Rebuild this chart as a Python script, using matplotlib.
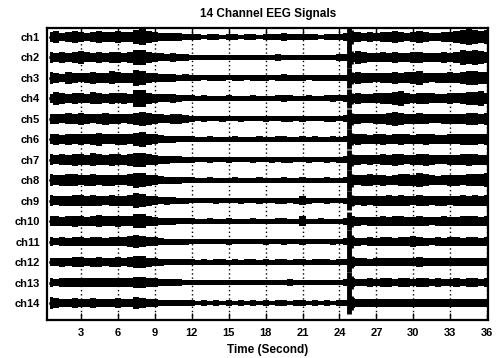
import numpy as np
import matplotlib
matplotlib.use("Agg")
import matplotlib.pyplot as plt

plt.rcParams['font.family'] = ['Liberation Sans', 'DejaVu Sans']

# time grid of envelope samples (seconds)
t_start, t_stop, t_step = 0.5, 36.5, 0.5
channels = [f"ch{i}" for i in range(1, 15)]
x_ticks = [3, 6, 9, 12, 15, 18, 21, 24, 27, 30, 33, 36]

# half-amplitude envelopes (in 1/100 of channel spacing)
ch1 = [20,24,18,22,26,20,18,22,24,19,21,26,22,20,28,34,24,20,
       16,18,15,17,14,12,
       11,10,12,11,10,11,12,10,11,12,10,11,13,12,16,12,11,13,12,11,10,12,13,12,
       16,22,
       22,18,20,17,19,22,24,20,18,22,26,20,18,17,20,22,24,28,32,30,26,28,22]
ch2 = [22,18,24,20,22,26,21,19,23,20,24,22,19,23,30,32,22,18,
       17,15,18,14,13,12,
       10,12,11,10,11,12,11,10,12,11,10,12,11,14,12,11,12,10,11,12,11,10,12,13,
       15,20,
       28,24,20,18,21,19,23,20,18,22,24,19,20,18,22,20,24,30,28,32,26,24,20]
ch3 = [24,20,18,26,22,19,21,24,20,22,27,23,20,22,32,30,21,19,
       18,16,17,14,15,12,
       11,10,12,11,12,10,11,12,10,11,12,11,10,12,15,11,12,11,10,12,11,12,11,12,
       14,20,
       26,22,20,19,22,20,24,21,23,26,28,22,19,20,21,23,22,26,30,28,24,26,21]
ch4 = [20,26,22,19,24,21,20,25,22,20,23,21,24,20,34,36,23,20,
       17,16,18,15,13,12,
       11,12,10,11,10,12,11,10,11,12,11,10,11,12,14,12,11,10,12,11,10,12,14,12,
       14,20,
       22,20,19,21,24,22,26,30,24,20,22,24,21,19,20,22,21,24,28,26,30,24,20]
ch5 = [22,20,18,23,21,24,22,19,21,25,22,20,19,22,26,28,24,22,
       18,16,20,22,16,13,
       11,12,11,10,12,11,10,12,11,10,11,12,10,11,13,12,11,12,11,10,11,12,12,11,
       14,20,
       20,18,19,22,20,26,28,24,20,21,23,20,18,19,21,20,22,20,24,26,22,24,19]
ch6 = [20,22,19,24,21,23,20,22,26,21,20,24,22,20,28,30,22,20,
       16,15,14,13,12,12,
       10,11,12,10,11,10,12,11,10,11,12,10,11,12,13,11,10,12,11,13,11,10,12,11,
       13,20,
       22,20,18,20,22,19,21,24,20,18,21,22,20,19,18,20,21,23,22,24,20,22,18]
ch7 = [22,19,23,20,24,22,20,26,23,20,24,22,21,24,30,28,22,20,
       16,17,15,14,13,12,
       11,10,12,11,10,12,11,10,11,12,10,11,12,11,13,12,11,10,12,11,10,12,11,12,
       14,20,
       20,18,21,19,22,20,24,22,19,20,22,24,20,18,19,21,20,22,24,22,20,21,18]
ch8 = [24,20,22,26,24,21,22,24,20,23,22,20,21,24,32,30,22,20,
       16,15,14,14,12,12,
       10,11,12,11,10,11,12,10,11,10,12,11,10,11,12,11,10,12,11,10,11,12,11,10,
       13,20,
       20,22,24,20,22,19,21,24,26,22,28,24,20,19,21,23,22,20,24,26,24,28,22]
ch9 = [22,18,21,20,24,22,20,23,21,19,22,21,20,22,30,26,20,18,
       15,16,14,13,12,11,
       10,11,10,12,11,10,11,12,10,11,12,11,10,12,13,11,12,18,12,11,10,12,11,10,
       13,20,
       18,20,19,21,20,22,20,24,21,19,22,20,18,20,21,19,20,22,21,23,20,22,19]
ch10 = [20,22,18,21,23,20,19,22,24,20,21,23,20,22,28,30,21,19,
        15,14,14,13,12,12,
        10,11,12,10,11,12,10,11,10,12,11,10,11,12,12,11,10,20,11,10,12,11,10,11,
        14,20,
        18,17,19,18,20,19,22,20,18,19,20,18,17,19,20,18,19,21,20,22,19,20,18]
ch11 = [18,16,19,17,20,18,17,19,18,17,19,20,18,22,26,24,20,18,
        14,13,13,12,12,11,
        10,11,10,11,10,12,11,10,11,10,11,12,10,11,12,10,11,12,11,10,11,10,12,11,
        14,20,
        17,16,18,17,19,18,17,19,18,22,18,17,16,18,17,19,18,17,19,18,17,18,16]
ch12 = [18,17,19,18,22,20,18,19,21,18,19,20,18,20,26,24,19,18,
        15,14,13,12,12,11,
        10,11,10,12,11,10,11,10,12,11,10,11,10,12,11,10,12,11,10,11,12,11,10,12,
        13,20,
        16,17,15,17,16,18,17,16,18,17,20,18,16,17,16,18,17,16,18,17,16,17,15]
ch13 = [18,16,20,18,17,19,18,17,20,18,19,18,17,19,24,22,18,17,
        15,14,13,15,12,11,
        10,11,10,11,10,12,11,10,11,10,11,12,10,11,12,13,11,10,11,12,10,11,10,11,
        13,20,
        16,15,17,16,18,17,16,18,17,16,19,18,16,17,16,15,17,16,18,17,16,17,15]
ch14 = [24,20,18,17,19,18,17,19,18,17,18,19,17,18,24,22,17,16,
        14,13,12,12,11,11,
        10,11,10,11,10,11,10,11,10,12,10,11,10,11,11,10,11,12,10,11,10,11,10,11,
        13,20,
        16,15,16,17,16,15,17,16,15,16,17,15,16,15,16,17,16,15,16,17,15,16,15]

# big artifact spike common to all channels
spike_time = 24.8
spike_amp = [0.60, 0.50, 0.50, 0.45, 0.50, 0.48, 0.50, 0.52, 0.45, 0.45, 0.55, 0.50, 0.50, 0.55]

envelopes = [ch1, ch2, ch3, ch4, ch5, ch6, ch7, ch8, ch9, ch10, ch11, ch12, ch13, ch14]

t = np.arange(t_start, t_stop + 1e-9, t_step)
amp_scale = 1.0 / 85.0

fig = plt.figure(figsize=(4.98, 3.58), dpi=100)
ax = fig.add_axes([0.0944, 0.106, 0.886, 0.816])

n = len(channels)
for k, env in enumerate(envelopes):
    a = np.asarray(env, dtype=float) * amp_scale
    assert len(a) == len(t), (k, len(a))
    yc = n - k
    ax.fill_between(t, yc - a, yc + a, color='black', lw=0, zorder=3, step='mid')
    ax.plot(t, np.full_like(t, yc), color='black', lw=1.8, zorder=3)
    ax.vlines(spike_time, yc - spike_amp[k], yc + spike_amp[k], color='black', lw=3.5, zorder=3)
    ax.vlines(spike_time + 0.25, yc - 0.6 * spike_amp[k], yc + 0.6 * spike_amp[k],
              color='black', lw=2.0, zorder=3)

ax.set_xlim(0.25, 36.08)
ax.set_ylim(0.17, 14.44)
ax.set_xticks(x_ticks)
ax.set_xticklabels([str(v) for v in x_ticks], fontsize=8, fontweight='bold')
ax.set_yticks([n - k for k in range(n)])
ax.set_yticklabels(channels, fontsize=8, fontweight='bold')
ax.tick_params(axis='x', direction='in', top=True, length=5, width=1.0, pad=6)
ax.tick_params(axis='y', length=0, pad=5)
ax.xaxis.grid(True, linestyle=(0, (1, 2)), color='black', lw=1.0)
ax.set_axisbelow(True)
for s in ax.spines.values():
    s.set_linewidth(1.6)

ax.set_title("14 Channel EEG Signals", fontsize=8.5, fontweight='bold', pad=8)
ax.set_xlabel("Time (Second)", fontsize=8.5, fontweight='bold', labelpad=4)

fig.savefig("out.png", dpi=100)
